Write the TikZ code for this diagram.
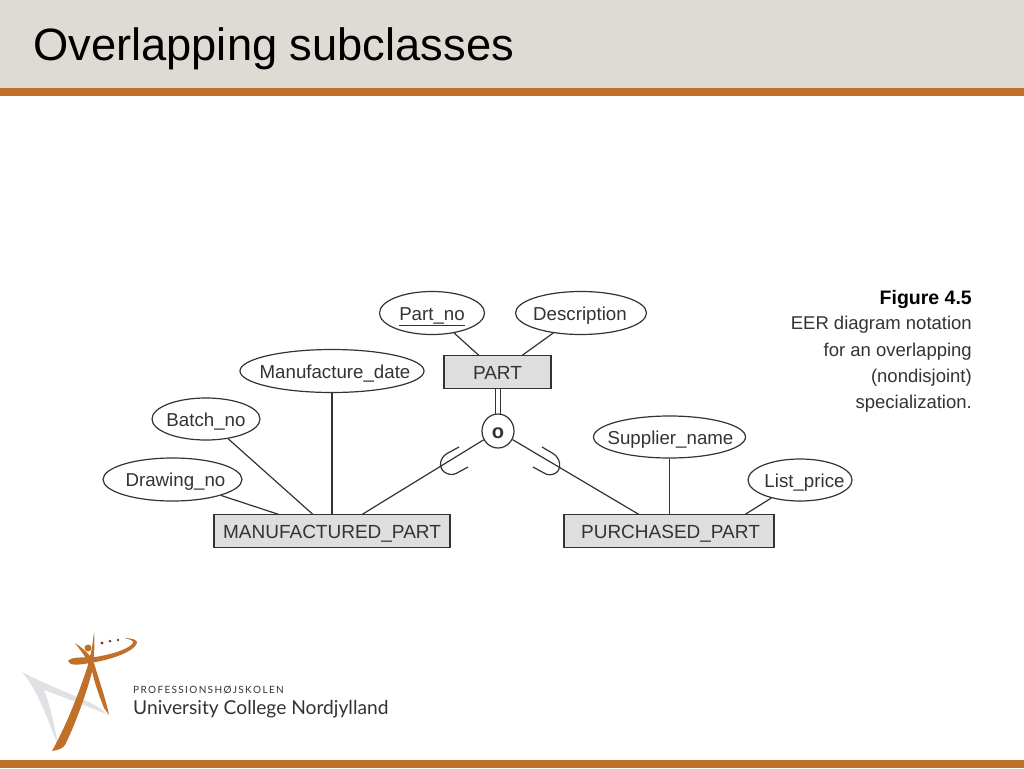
\documentclass[tikz,border=0pt]{standalone}
\usepackage{fontspec}
\setmainfont{Liberation Sans}
\newfontfamily\logofont{Lato}
\usetikzlibrary{shapes.geometric}
\definecolor{hdr}{HTML}{DEDBD4}
\definecolor{bar}{HTML}{C1702A}
\definecolor{boxfill}{HTML}{DEDEDE}
\definecolor{ink}{HTML}{333333}
\definecolor{dots}{HTML}{8C2A4A}
\definecolor{logoshade}{HTML}{DFE1E4}
\newcommand{\zb}[2][0]{\raisebox{-7pt}[0pt][0pt]{\makebox[0pt]{\kern#1pt\makebox[0pt]{#2}\kern-#1pt}}}
\tikzset{
 er/.style={line width=1.2pt,draw=ink},
 attr/.style={ellipse,er,fill=white,inner sep=0pt,font=\fontsize{18.7}{22}\selectfont,text=ink},
 ent/.style={rectangle,er,fill=boxfill,inner sep=0pt,font=\fontsize{19}{22}\selectfont,text=ink},
 captext/.style={anchor=east,inner sep=0pt,font=\fontsize{18.5}{22}\selectfont,text=ink},
}
\begin{document}
\begin{tikzpicture}[x=1pt,y=-1pt]
\useasboundingbox (0,0) rectangle (1024,768);
\fill[white] (0,0) rectangle (1024,768);
\fill[hdr] (0,0) rectangle (1024,88);
\fill[bar] (0,88) rectangle (1024,96);
\fill[bar] (0,760) rectangle (1024,768);
\node[anchor=west,inner sep=0pt,font=\fontsize{45.3}{50}\selectfont] (title) at (33,49) {Overlapping subclasses};

% nodes
\node[ent,minimum width=107,minimum height=33] (part) at (497.5,372) {\zb{PART}};
\node[ent,minimum width=236,minimum height=33] (mp) at (332,531) {\zb{MANUFACTURED\_PART}};
\node[ent,minimum width=210,minimum height=33] (pp) at (669,531) {\zb[1.5]{PURCHASED\_PART}};
\node[attr,minimum width=105,minimum height=43] (partno) at (432,313) {\zb{\underline{Part\_no}}};
\node[attr,minimum width=131,minimum height=43] (desc) at (581,313) {\zb[-1]{Description}};
\node[attr,minimum width=184,minimum height=43] (mdate) at (332,371) {\zb[3]{Manufacture\_date}};
\node[attr,minimum width=108,minimum height=42] (batch) at (206,419) {\zb{Batch\_no}};
\node[attr,minimum width=139,minimum height=43] (drawno) at (172.5,479.5) {\zb[3]{Drawing\_no}};
\node[attr,minimum width=152,minimum height=42] (supp) at (669.5,437) {\zb[1]{Supplier\_name}};
\node[attr,minimum width=104,minimum height=42] (list) at (800,480) {\zb[4.5]{List\_price}};
\node[attr,minimum width=32,minimum height=34,font=\fontsize{20}{22}\selectfont\bfseries] (o) at (498,431) {\zb{o}};

% connector ends
\coordinate (p1) at (479,355.5);
\coordinate (p2) at (522,355.5);
\coordinate (m1) at (313,514.5);
\coordinate (m2) at (279,514.5);
\coordinate (m3) at (362,514.5);
\coordinate (q1) at (745,514.5);
\coordinate (q2) at (639,514.5);
\coordinate (d1a) at (495.5,388.5);
\coordinate (d1b) at (495.5,415);
\coordinate (d2a) at (500.5,388.5);
\coordinate (d2b) at (500.5,415);

% connectors
\draw[er] (partno) -- (p1);
\draw[er] (desc) -- (p2);
\draw[er] (mdate) -- (mdate |- mp.north);
\draw[er] (batch) -- (m1);
\draw[er] (drawno) -- (m2);
\draw[er] (supp) -- (supp |- pp.north);
\draw[er] (list) -- (q1);
\draw[er] (o) -- (m3);
\draw[er] (o) -- (q2);
\draw[er] (d1a) -- (d1b);
\draw[er] (d2a) -- (d2b);

% subset marks
\draw[er] (459,447) -- (447,453.5) .. controls (438,459) and (439,470) .. (446,473) .. controls (450,475) and (453,475) .. (457,473) -- (468,467);
\draw[er] (542,447) -- (553,453.5) .. controls (561,458) and (562,470) .. (555,473.5) .. controls (551,475.5) and (547,475) .. (544,473) -- (533,467);

% caption
\node[captext,font=\fontsize{19.5}{22}\selectfont\bfseries,text=black] (c0) at (972,299) {Figure 4.5};
\node[captext] (c1) at (972,325) {EER diagram notation};
\node[captext] (c2) at (972,352) {for an overlapping};
\node[captext] (c3) at (972,378) {(nondisjoint)};
\node[captext] (c4) at (972,404) {specialization.};

% logo
\fill[logoshade] (22,672) .. controls (38,690) and (50,725) .. (58,746) .. controls (54,720) and (48,700) .. (44,690) .. controls (60,696) and (85,705) .. (106,714) .. controls (100,703) and (60,692) .. (22,672) -- cycle;
\fill[bar] (52,751) .. controls (58,750) and (62,749) .. (65,745) .. controls (75,725) and (88,690) .. (94,664) -- (89,662) .. controls (80,690) and (68,722) .. (52,751) -- cycle;
\fill[bar] (91,664) -- (94,663) .. controls (99,680) and (106,700) .. (109,715) -- (104,708) .. controls (99,695) and (93,680) .. (91,664) -- cycle;
\fill[bar] (94,632) .. controls (95,645) and (94,655) .. (93,666) -- (89,666) .. controls (86,656) and (80,650) .. (75,643) .. controls (81,647) and (86,651) .. (90,656) .. controls (92,650) and (93,640) .. (94,632) -- cycle;
\fill[bar] (88,648) circle (3.5);
\fill[bar] (68,661) .. controls (72,656) and (85,658) .. (95,657) .. controls (115,654) and (130,648) .. (133,643) .. controls (134,641) and (130,639) .. (124,638) .. controls (132,638) and (138,640) .. (137,643) .. controls (134,652) and (110,660) .. (90,663) .. controls (78,665) and (70,666) .. (68,661) -- cycle;
\fill[dots] (102,643) circle (1.7) (110,641) circle (1.5) (118,640) circle (1.3);
\newcommand{\lk}{\kern1.35pt}
\node[anchor=west,inner sep=0pt,font=\logofont\fontsize{10}{12}\selectfont,text=ink] (l1) at (133,690) {P\lk R\lk O\lk F\lk E\lk S\lk S\lk I\lk O\lk N\lk S\lk H\lk Ø\lk J\lk S\lk K\lk O\lk L\lk E\lk N};
\node[anchor=west,inner sep=0pt,font=\logofont\fontsize{19.2}{22}\selectfont,text=ink] (l2) at (133,709) {University College Nordjylland};
\end{tikzpicture}
\end{document}
